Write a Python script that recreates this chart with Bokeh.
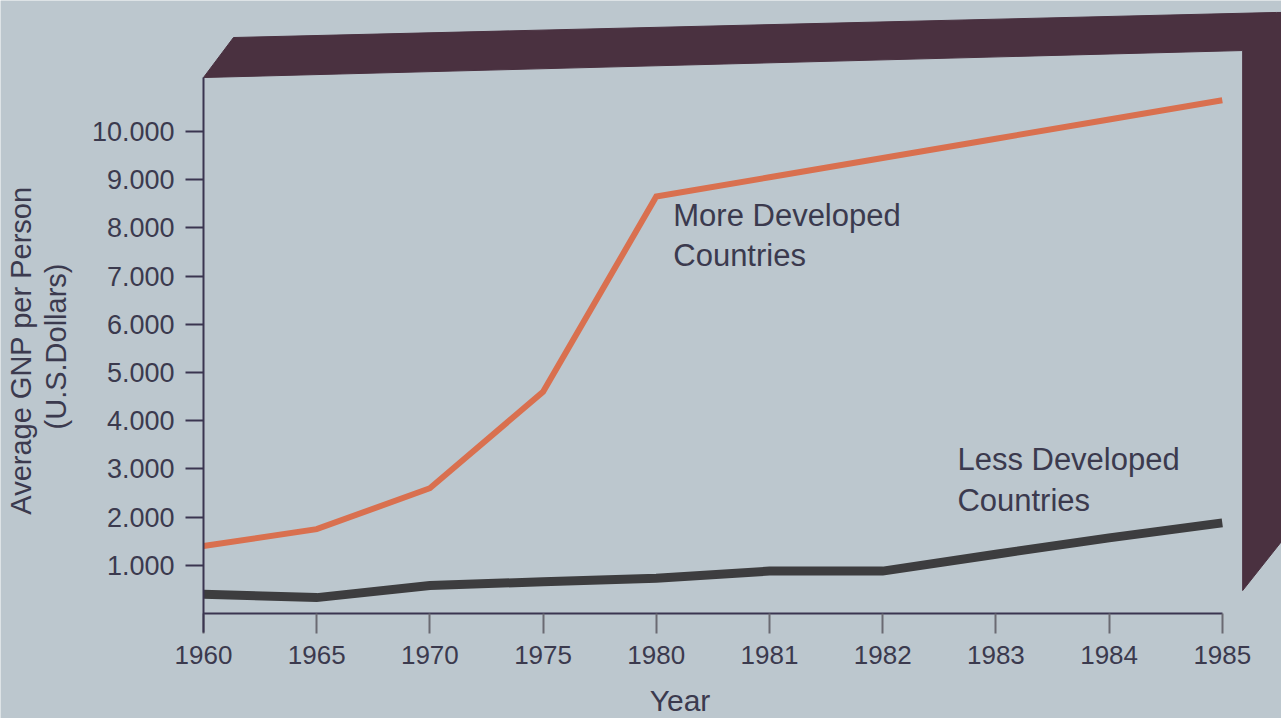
import math
from bokeh.plotting import figure
from bokeh.models import Range1d, FixedTicker, Label
from bokeh.embed import file_html
from bokeh.resources import INLINE

# ---- data ----
years = ["1960", "1965", "1970", "1975", "1980", "1981", "1982", "1983", "1984", "1985"]
more_developed = [1400, 1750, 2600, 4600, 8650, 9050, 9450, 9850, 10250, 10650]
less_developed = [400, 330, 580, 660, 730, 880, 880, 1230, 1570, 1880]
y_ticks = [1000, 2000, 3000, 4000, 5000, 6000, 7000, 8000, 9000, 10000]
y_tick_labels = ["1.000", "2.000", "3.000", "4.000", "5.000",
                 "6.000", "7.000", "8.000", "9.000", "10.000"]
series_labels = ["More Developed\nCountries", "Less Developed\nCountries"]
y_title = ["Average GNP per Person", "(U.S.Dollars)"]
x_title = "Year"

# ---- styling ----
BG = "#bcc7ce"
TEXT = "#3b3a4e"
ORANGE = "#d9704f"
DARK = "#3d3d3f"
FRAME = "#4a3140"
AXIS = "#3a3550"
FONT = "Liberation Sans"

x = list(range(len(years)))

# the plot frame fills the whole canvas; axes are pinned at x=0 / y=0
p = figure(width=1281, height=718, output_backend="svg", toolbar_location=None,
           x_range=Range1d(-1.793, 9.523), y_range=Range1d(-2178, 12718),
           min_border=0)
p.background_fill_color = BG
p.border_fill_color = BG
p.outline_line_color = None
p.grid.visible = False

# decorative dark "3D" frame around the top and right of the chart
fx = [0.0, 0.265, 9.48, 9.53, 9.53, 9.18, 9.18]
fy = [11120, 11950, 12470, 12470, 1515, 477, 11680]
p.patch(fx, fy, fill_color=FRAME, line_color=FRAME)

# series
p.line(x, more_developed, line_color=ORANGE, line_width=6, line_join="miter")
p.line(x, less_developed, line_color=DARK, line_width=9, line_join="miter")

# x axis
xa = p.xaxis[0]
xa.fixed_location = 0
xa.ticker = FixedTicker(ticks=x)
xa.major_label_overrides = {i: y for i, y in enumerate(years)}
xa.bounds = (0, 9)
xa.axis_line_color = AXIS
xa.axis_line_width = 2
xa.major_tick_in = 0
xa.major_tick_out = 20
xa.major_tick_line_color = "#6a6a72"
xa.major_tick_line_width = 2
xa.minor_tick_line_color = None
xa.major_label_standoff = 12
xa.major_label_text_font = FONT
xa.major_label_text_font_size = "26px"
xa.major_label_text_color = TEXT

# y axis
ya = p.yaxis[0]
ya.fixed_location = 0
ya.ticker = FixedTicker(ticks=y_ticks)
ya.major_label_overrides = {t: l for t, l in zip(y_ticks, y_tick_labels)}
ya.bounds = (-400, 11120)
ya.axis_line_color = AXIS
ya.axis_line_width = 2
ya.major_tick_in = 0
ya.major_tick_out = 18
ya.major_tick_line_color = AXIS
ya.major_tick_line_width = 2
ya.minor_tick_line_color = None
ya.major_label_standoff = 11
ya.major_label_text_font = FONT
ya.major_label_text_font_size = "27px"
ya.major_label_text_color = TEXT

# axis titles
p.add_layout(Label(x=-1.61, y=5456, text=y_title[0], angle=math.pi / 2,
                   text_align="center", text_baseline="middle", text_font=FONT,
                   text_font_size="29px", text_color=TEXT))
p.add_layout(Label(x=-1.30, y=5540, text=y_title[1], angle=math.pi / 2,
                   text_align="center", text_baseline="middle", text_font=FONT,
                   text_font_size="29px", text_color=TEXT))
p.add_layout(Label(x=4.21, y=-1805, text=x_title, text_align="center",
                   text_baseline="middle", text_font=FONT, text_font_size="30px",
                   text_color=TEXT))

# series labels
for (lx, ly), txt in zip([(4.15, 7850), (6.66, 2770)], series_labels):
    p.add_layout(Label(x=lx, y=ly, text=txt, text_align="left", text_baseline="middle",
                       text_font=FONT, text_font_size="31px", text_color=TEXT,
                       text_line_height=1.15))

open("out.html", "w").write(file_html(p, INLINE))
